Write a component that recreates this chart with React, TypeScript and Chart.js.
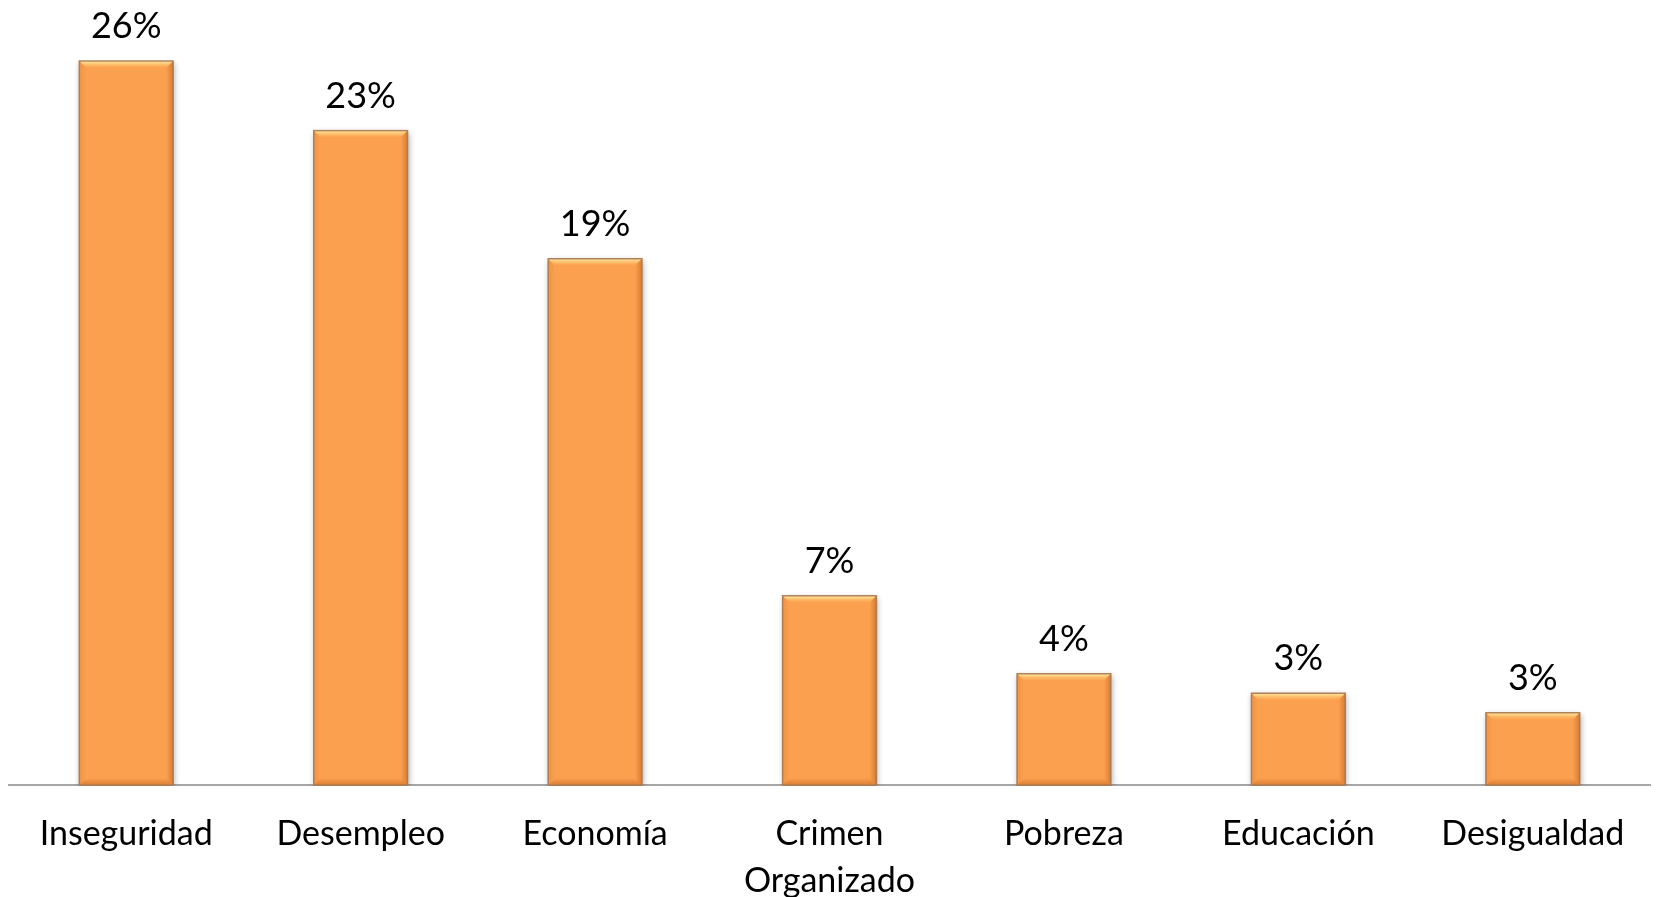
import React, { useEffect, useRef } from "react";
import { Chart, registerables } from "chart.js";

Chart.register(...registerables);

const categories: (string | string[])[] = [
  "Inseguridad",
  "Desempleo",
  "Economía",
  ["Crimen", "Organizado"],
  "Pobreza",
  "Educación",
  "Desigualdad",
];
const values: number[] = [26.0, 23.5, 18.9, 6.8, 4.0, 3.3, 2.6];
const valueLabels: string[] = ["26%", "23%", "19%", "7%", "4%", "3%", "3%"];

const FONT = "Lato, 'Open Sans', sans-serif";

const bevelPlugin = {
  id: "bevel",
  afterDatasetsDraw(chart: any) {
    const ctx = chart.ctx;
    const meta = chart.getDatasetMeta(0);
    meta.data.forEach((bar: any, i: number) => {
      const { x, y, base, width } = bar.getProps(["x", "y", "base", "width"], true);
      const l = x - width / 2;
      const r = x + width / 2;
      const t = y;
      const b = base;
      const bv = 7;
      ctx.save();
      let g = ctx.createLinearGradient(0, t, 0, t + bv);
      g.addColorStop(0, "rgba(255,240,170,1)");
      g.addColorStop(1, "rgba(255,200,110,0.0)");
      ctx.fillStyle = g;
      ctx.beginPath();
      ctx.moveTo(l, t);
      ctx.lineTo(r, t);
      ctx.lineTo(r - bv, t + bv);
      ctx.lineTo(l + bv, t + bv);
      ctx.closePath();
      ctx.fill();
      g = ctx.createLinearGradient(l, 0, l + bv, 0);
      g.addColorStop(0, "rgba(230,140,60,0.6)");
      g.addColorStop(1, "rgba(230,140,60,0)");
      ctx.fillStyle = g;
      ctx.beginPath();
      ctx.moveTo(l, t);
      ctx.lineTo(l + bv, t + bv);
      ctx.lineTo(l + bv, b - bv);
      ctx.lineTo(l, b);
      ctx.closePath();
      ctx.fill();
      g = ctx.createLinearGradient(r, 0, r - bv, 0);
      g.addColorStop(0, "rgba(200,110,40,0.7)");
      g.addColorStop(1, "rgba(200,110,40,0)");
      ctx.fillStyle = g;
      ctx.beginPath();
      ctx.moveTo(r, t);
      ctx.lineTo(r - bv, t + bv);
      ctx.lineTo(r - bv, b - bv);
      ctx.lineTo(r, b);
      ctx.closePath();
      ctx.fill();
      g = ctx.createLinearGradient(0, b, 0, b - bv);
      g.addColorStop(0, "rgba(200,110,40,0.7)");
      g.addColorStop(1, "rgba(200,110,40,0)");
      ctx.fillStyle = g;
      ctx.beginPath();
      ctx.moveTo(l, b);
      ctx.lineTo(l + bv, b - bv);
      ctx.lineTo(r - bv, b - bv);
      ctx.lineTo(r, b);
      ctx.closePath();
      ctx.fill();
      ctx.strokeStyle = "rgba(170,120,80,0.9)";
      ctx.lineWidth = 1.5;
      ctx.strokeRect(l, t, width, b - t);
      ctx.fillStyle = "#000";
      ctx.font = `36px ${FONT}`;
      ctx.textAlign = "center";
      ctx.textBaseline = "alphabetic";
      ctx.fillText(valueLabels[i], x, t - 23);
      ctx.restore();
    });
  },
};

const shadowPlugin = {
  id: "barShadow",
  beforeDatasetsDraw(chart: any) {
    const ctx = chart.ctx;
    ctx.save();
    ctx.shadowColor = "rgba(0,0,0,0.35)";
    ctx.shadowBlur = 6;
    ctx.shadowOffsetX = 1;
    ctx.shadowOffsetY = 2;
  },
  afterDatasetsDraw(chart: any) {
    chart.ctx.restore();
  },
};

export default function App() {
  const ref = useRef<HTMLCanvasElement>(null);
  useEffect(() => {
    document.body.style.margin = "0";
    const chart = new Chart(ref.current!, {
      type: "bar",
      data: {
        labels: categories,
        datasets: [
          {
            data: values,
            backgroundColor: "#FBA04F",
            borderWidth: 0,
            categoryPercentage: 1,
            barPercentage: 0.4,
          },
        ],
      },
      options: {
        responsive: false,
        animation: false,
        layout: { padding: { left: 9, right: 6, top: 61, bottom: -32 } },
        plugins: { legend: { display: false }, tooltip: { enabled: false } },
        scales: {
          y: { display: false, min: 0, max: 26 },
          x: {
            grid: { display: false, drawTicks: false },
            border: { display: true, color: "#A6A6A6", width: 2 },
            ticks: {
              color: "#000",
              padding: 25,
              maxRotation: 0,
              autoSkip: false,
              font: { family: FONT, size: 34, lineHeight: 1.38 },
            },
          },
        },
      },
      plugins: [shadowPlugin, bevelPlugin],
    });
    return () => chart.destroy();
  }, []);
  return <canvas ref={ref} width={1656} height={897} style={{ display: "block" }} />;
}
